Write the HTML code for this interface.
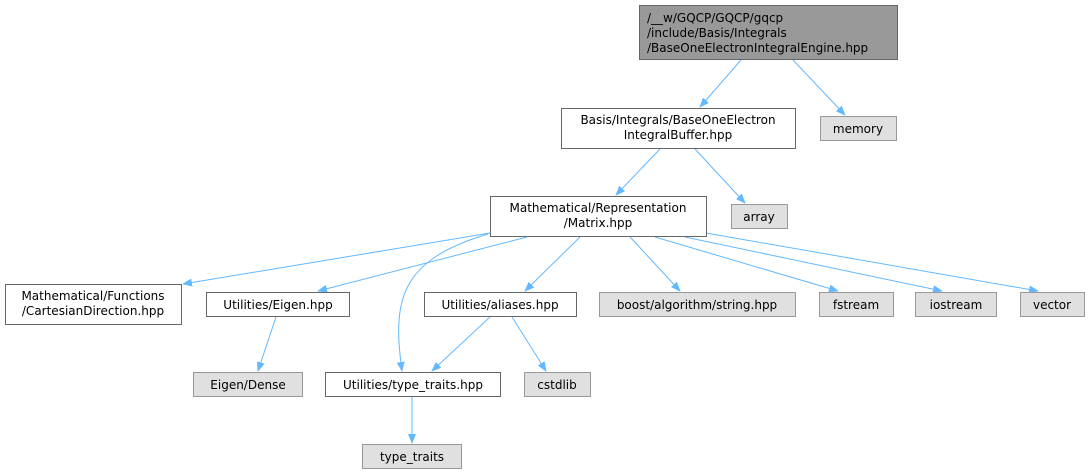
<!DOCTYPE html>
<html><head><meta charset="utf-8"><style>
html,body{margin:0;padding:0;background:#fff;}
svg{display:block}
text{font-family:"DejaVu Sans","Liberation Sans",sans-serif;font-size:12px;fill:#000}
</style></head><body>
<svg width="1090" height="476" viewBox="0 0 1090 476" xmlns="http://www.w3.org/2000/svg">
<defs><marker id="a" markerWidth="10" markerHeight="8" refX="9" refY="4" orient="auto" markerUnits="userSpaceOnUse"><path d="M0,0 L10,4 L0,8 z" fill="#63b8ff"/></marker></defs>
<g stroke="#63b8ff" stroke-width="1" fill="none" marker-end="url(#a)">
<path d="M741,60 L700,107"/>
<path d="M793,60 L845,115"/>
<path d="M660,149 L616,195"/>
<path d="M695,149 L745,203"/>
<path d="M490,233 L183,284"/>
<path d="M527,237 L318,291"/>
<path d="M488,234 C400,260 392,300 402,371"/>
<path d="M580,237 L525,291"/>
<path d="M630,237 L680,291"/>
<path d="M655,237 L838,291"/>
<path d="M685,237 L942,291"/>
<path d="M706,233 L1038,291"/>
<path d="M276,317 L258,371"/>
<path d="M490,317 L432,371"/>
<path d="M512,317 L546,371"/>
<path d="M412,397 L412,443"/>
</g>
<g stroke="#666" stroke-width="1">
<rect x="639.5" y="5.5" width="258" height="54" fill="#999"/>
<rect x="561.5" y="108.5" width="234" height="40" fill="#fff"/>
<rect x="820.5" y="116.5" width="76" height="24" fill="#e0e0e0" stroke="#999"/>
<rect x="490.5" y="196.5" width="216" height="40" fill="#fff"/>
<rect x="731.5" y="204.5" width="56" height="24" fill="#e0e0e0" stroke="#999"/>
<rect x="5.5" y="284.5" width="176" height="40" fill="#fff"/>
<rect x="206.5" y="292.5" width="143" height="24" fill="#fff"/>
<rect x="424.5" y="292.5" width="152" height="24" fill="#fff"/>
<rect x="599.5" y="292.5" width="196" height="24" fill="#e0e0e0" stroke="#999"/>
<rect x="819.5" y="292.5" width="74" height="24" fill="#e0e0e0" stroke="#999"/>
<rect x="915.5" y="292.5" width="81" height="24" fill="#e0e0e0" stroke="#999"/>
<rect x="1020.5" y="292.5" width="64" height="24" fill="#e0e0e0" stroke="#999"/>
<rect x="193.5" y="372.5" width="109" height="24" fill="#e0e0e0" stroke="#999"/>
<rect x="325.5" y="372.5" width="175" height="24" fill="#fff"/>
<rect x="524.5" y="372.5" width="66" height="24" fill="#e0e0e0" stroke="#999"/>
<rect x="362.5" y="444.5" width="99" height="24" fill="#e0e0e0" stroke="#999"/>
</g>
<text x="647" y="22">/__w/GQCP/GQCP/gqcp</text>
<text x="647" y="37">/include/Basis/Integrals</text>
<text x="647" y="52">/BaseOneElectronIntegralEngine.hpp</text>
<g text-anchor="middle">
<text x="678" y="124">Basis/Integrals/BaseOneElectron</text>
<text x="678" y="139">IntegralBuffer.hpp</text>
<text x="858" y="133">memory</text>
<text x="598" y="212">Mathematical/Representation</text>
<text x="598" y="227">/Matrix.hpp</text>
<text x="759" y="221">array</text>
<text x="93" y="300">Mathematical/Functions</text>
<text x="93" y="315">/CartesianDirection.hpp</text>
<text x="278" y="309">Utilities/Eigen.hpp</text>
<text x="500" y="309">Utilities/aliases.hpp</text>
<text x="697" y="309">boost/algorithm/string.hpp</text>
<text x="856" y="309">fstream</text>
<text x="956" y="309">iostream</text>
<text x="1052" y="309">vector</text>
<text x="248" y="389">Eigen/Dense</text>
<text x="413" y="389">Utilities/type_traits.hpp</text>
<text x="557" y="389">cstdlib</text>
<text x="412" y="461">type_traits</text>
</g>
</svg>
</body></html>
